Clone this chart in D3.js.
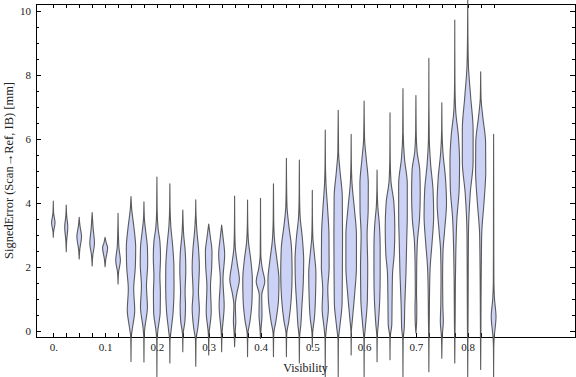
<!DOCTYPE html>
<html>
<head>
<meta charset="utf-8">
<script src="https://cdn.jsdelivr.net/npm/d3@7/dist/d3.min.js"></script>
<style>
  html, body { margin: 0; padding: 0; background: #fff; }
  svg { display: block; }
  text { font-family: "Liberation Serif", "DejaVu Serif", serif; fill: #222; }
</style>
</head>
<body>
<svg id="chart" width="576" height="377"></svg>
<script>
// ---- data ----
const visibility = [0, 0.025, 0.05, 0.075, 0.1, 0.125, 0.15, 0.175, 0.2, 0.225, 0.25, 0.275, 0.3, 0.325,
  0.35, 0.375, 0.4, 0.425, 0.45, 0.475, 0.5, 0.525, 0.55, 0.575, 0.6, 0.625, 0.65, 0.675, 0.7, 0.725,
  0.75, 0.775, 0.8, 0.825, 0.85];

const xTickLabels = ["0.", "0.1", "0.2", "0.3", "0.4", "0.5", "0.6", "0.7", "0.8"];
const xLabelValues = [0, 0.1, 0.2, 0.3, 0.4, 0.5, 0.6, 0.7, 0.8];
const yMajorTicks = [0, 2, 4, 6, 8, 10];
const yMinorTicks = [0.5, 1, 1.5, 2.5, 3, 3.5, 4.5, 5, 5.5, 6.5, 7, 7.5, 8.5, 9, 9.5];

// density profiles: [signed error (mm), relative density] per visibility bin
const densityProfiles = [
  [[2.93,0],[3.1,0.05],[3.38,0.29],[3.7,0.05],[4.06,0]],
  [[2.48,0],[2.8,0.06],[3.25,0.26],[3.6,0.07],[3.94,0]],
  [[2.25,0],[2.55,0.1],[2.95,0.39],[3.3,0.12],[3.55,0]],
  [[2.03,0],[2.35,0.1],[2.75,0.39],[3.2,0.17],[3.7,0]],
  [[2.01,0],[2.25,0.12],[2.6,0.42],[2.75,0.2],[2.93,0]],
  [[1.47,0],[1.85,0.1],[2.2,0.39],[2.6,0.15],[3.1,0.05],[3.68,0]],
  [[-0.95,0],[-0.2,0.04],[0.1,0.25],[0.65,0.62],[1.3,0.45],[2.0,0.72],[2.6,0.78],[3.3,0.45],[3.8,0.12],[4.2,0]],
  [[-0.97,0],[-0.2,0.03],[0.1,0.15],[0.75,0.58],[1.4,0.42],[2.1,0.62],[2.6,0.58],[3.1,0.3],[3.5,0.08],[4.04,0]],
  [[-1.43,0],[-0.3,0.03],[0.0,0.15],[0.6,0.55],[1.2,0.58],[1.7,0.5],[2.3,0.6],[2.8,0.5],[3.2,0.2],[3.8,0.04],[4.81,0]],
  [[-1.0,0],[-0.3,0.03],[0.0,0.2],[0.6,0.55],[1.4,0.7],[2.0,0.68],[2.7,0.45],[3.3,0.15],[3.9,0.03],[4.6,0]],
  [[-0.65,0],[-0.1,0.05],[0.3,0.35],[0.8,0.45],[1.2,0.38],[1.9,0.5],[2.5,0.4],[3.0,0.15],[3.78,0]],
  [[-1.1,0],[-0.3,0.04],[0.1,0.35],[0.7,0.6],[1.2,0.45],[2.0,0.6],[2.6,0.45],[3.1,0.2],[3.6,0.05],[4.1,0]],
  [[-0.75,0],[-0.1,0.06],[0.6,0.42],[1.4,0.3],[2.0,0.5],[2.5,0.55],[2.9,0.3],[3.34,0]],
  [[-0.65,0],[-0.1,0.06],[0.8,0.42],[1.6,0.22],[2.4,0.5],[2.9,0.25],[3.31,0]],
  [[-0.49,0],[0.0,0.1],[0.3,0.2],[0.8,0.12],[1.2,0.4],[1.6,0.8],[2.1,0.45],[2.6,0.12],[3.2,0.03],[4.22,0]],
  [[-0.8,0],[-0.1,0.05],[0.3,0.4],[1.0,0.75],[1.6,0.8],[2.2,0.55],[2.8,0.15],[3.4,0.03],[4.09,0]],
  [[-0.23,0],[0.1,0.1],[0.5,0.25],[0.9,0.22],[1.12,0.2],[1.55,0.72],[1.95,0.3],[2.4,0.05],[3.2,0.02],[4.15,0]],
  [[-0.8,0],[-0.1,0.05],[0.3,0.4],[1.0,0.85],[1.6,0.92],[2.2,0.6],[2.8,0.2],[3.5,0.04],[4.6,0]],
  [[-0.8,0],[-0.1,0.05],[0.3,0.4],[1.0,0.8],[1.8,0.95],[2.6,0.85],[3.3,0.4],[3.9,0.1],[4.6,0.03],[5.4,0]],
  [[-1.0,0],[-0.2,0.04],[0.2,0.25],[0.7,0.4],[1.5,0.65],[2.2,0.72],[2.9,0.5],[3.6,0.12],[4.3,0.03],[5.34,0]],
  [[-0.5,0],[-0.05,0.06],[0.4,0.35],[1.2,0.55],[1.8,0.6],[2.4,0.35],[2.9,0.1],[3.6,0.02],[4.4,0]],
  [[-1.43,0],[-0.3,0.03],[0.1,0.2],[0.7,0.52],[1.3,0.42],[2.0,0.65],[3.0,0.62],[3.8,0.4],[4.6,0.12],[5.3,0.03],[6.28,0]],
  [[-1.43,0],[-0.3,0.03],[0.1,0.25],[0.9,0.65],[2.0,0.7],[3.0,0.72],[4.2,0.68],[5.0,0.3],[5.6,0.06],[6.9,0]],
  [[-0.75,0],[0.0,0.04],[0.3,0.18],[1.2,0.6],[2.0,0.88],[3.0,0.88],[3.8,0.55],[4.6,0.15],[5.3,0.03],[6.15,0]],
  [[-1.43,0],[-0.3,0.03],[0.1,0.2],[1.0,0.55],[2.0,0.6],[3.0,0.5],[3.8,0.68],[4.6,0.7],[5.4,0.35],[6.0,0.08],[7.19,0]],
  [[-0.96,0],[-0.2,0.03],[0.2,0.2],[1.0,0.45],[1.8,0.52],[2.6,0.52],[3.3,0.4],[3.9,0.12],[4.4,0.03],[5.03,0]],
  [[-0.9,0],[-0.2,0.03],[0.2,0.3],[1.0,0.35],[1.8,0.42],[2.4,0.7],[3.2,0.8],[4.0,0.65],[4.7,0.15],[5.5,0.03],[6.82,0]],
  [[-1.43,0],[-0.3,0.03],[0.1,0.22],[0.8,0.3],[1.8,0.5],[2.8,0.62],[3.6,0.72],[4.6,0.72],[5.4,0.25],[6.2,0.04],[7.58,0]],
  [[-0.06,0],[0.3,0.12],[0.7,0.15],[1.2,0.1],[2.0,0.13],[2.8,0.25],[3.5,0.6],[4.3,0.72],[5.0,0.65],[5.6,0.2],[6.3,0.04],[7.36,0]],
  [[-1.27,0],[-0.3,0.03],[0.5,0.08],[1.3,0.12],[2.0,0.22],[2.8,0.55],[3.6,0.8],[4.4,0.7],[5.2,0.3],[6.0,0.07],[7.0,0.02],[8.52,0]],
  [[-0.85,0],[-0.2,0.06],[0.3,0.25],[0.8,0.17],[1.6,0.13],[2.5,0.2],[3.1,0.45],[4.0,0.78],[4.8,0.6],[5.6,0.18],[6.3,0.03],[7.13,0]],
  [[-1.0,0],[-0.3,0.03],[0.5,0.07],[1.5,0.1],[2.5,0.18],[3.5,0.35],[4.5,0.75],[5.3,0.8],[6.1,0.6],[6.9,0.15],[7.8,0.03],[9.72,0]],
  [[-1.43,0],[-0.3,0.03],[0.5,0.06],[1.5,0.08],[3.0,0.12],[4.3,0.42],[5.3,0.9],[6.3,0.9],[7.3,0.5],[8.3,0.12],[9.3,0.03],[10.4,0]],
  [[-1.2,0],[-0.3,0.03],[0.5,0.05],[1.5,0.08],[2.3,0.12],[3.06,0.18],[4.0,0.55],[5.0,0.85],[5.9,0.82],[6.7,0.35],[7.3,0.06],[8.1,0]],
  [[-1.43,0],[-0.5,0.03],[-0.2,0.1],[0.45,0.4],[1.0,0.15],[1.5,0.05],[2.5,0.03],[4.0,0.02],[6.15,0]]
];

(function () {
  const svg = d3.select("#chart");
  const mLeft = 36, mRight = 575, mTop = 4, mBottom = 337;

  const x = d3.scaleLinear().domain([-0.0334, 1.0071]).range([mLeft, mRight]);
  const y = d3.scaleLinear().domain([-0.1875, 10.22]).range([mBottom, mTop]);
  const halfWidth = d3.scaleLinear().domain([0, 1]).range([0, 6]);

  svg.append("rect")
    .attr("x", mLeft).attr("y", mTop)
    .attr("width", mRight - mLeft).attr("height", mBottom - mTop)
    .attr("fill", "none").attr("stroke", "#000").attr("stroke-width", 1)
    .attr("shape-rendering", "crispEdges");

  function styleAxis(g) {
    g.select(".domain").remove();
    g.selectAll(".tick line").attr("stroke", "#000").attr("shape-rendering", "crispEdges");
    g.selectAll(".tick text").attr("font-size", 11).attr("fill", "#222")
      .attr("font-family", "Liberation Serif, DejaVu Serif, serif");
  }

  const labelMap = new Map(xLabelValues.map((v, i) => [v.toFixed(3), xTickLabels[i]]));
  svg.append("g").attr("transform", `translate(0,${mBottom})`)
    .call(d3.axisBottom(x).tickValues(visibility).tickSize(-4).tickPadding(6.5)
      .tickFormat(d => labelMap.get(d.toFixed(3)) || ""))
    .call(styleAxis);

  svg.append("g").attr("transform", `translate(0,${mTop})`)
    .call(d3.axisTop(x).tickValues(visibility).tickSize(-4).tickFormat(""))
    .call(styleAxis);

  svg.append("g").attr("transform", `translate(${mLeft},0)`)
    .call(d3.axisLeft(y).tickValues(yMajorTicks).tickSize(-4.7).tickPadding(5).tickFormat(d3.format("d")))
    .call(styleAxis);
  svg.append("g").attr("transform", `translate(${mLeft},0)`)
    .call(d3.axisLeft(y).tickValues(yMinorTicks).tickSize(-3).tickFormat(""))
    .call(styleAxis);

  svg.append("g").attr("transform", `translate(${mRight},0)`)
    .call(d3.axisRight(y).tickValues(yMajorTicks).tickSize(-4.7).tickFormat(""))
    .call(styleAxis);
  svg.append("g").attr("transform", `translate(${mRight},0)`)
    .call(d3.axisRight(y).tickValues(yMinorTicks).tickSize(-3).tickFormat(""))
    .call(styleAxis);

  const violinGen = (cx) => d3.area()
    .y(d => y(d[0]))
    .x0(d => cx - halfWidth(d[1]))
    .x1(d => cx + halfWidth(d[1]))
    .curve(d3.curveMonotoneY);

  svg.append("g").selectAll("path")
    .data(visibility)
    .join("path")
    .attr("d", (v, i) => violinGen(x(v))(densityProfiles[i]))
    .attr("fill", "#cbd2f5")
    .attr("stroke", "#4a4a4a")
    .attr("stroke-width", 1.1)
    .attr("stroke-opacity", 0.9)
    .attr("stroke-linejoin", "round");

  svg.append("text")
    .attr("x", (mLeft + mRight) / 2).attr("y", 371.5)
    .attr("text-anchor", "middle").attr("font-size", 12)
    .text("Visibility");

  svg.append("text")
    .attr("transform", `translate(13,${(mTop + mBottom) / 2}) rotate(-90)`)
    .attr("text-anchor", "middle").attr("font-size", 12.5)
    .text("SignedError (Scan→Ref, IB) [mm]");
})();
</script>
</body>
</html>
